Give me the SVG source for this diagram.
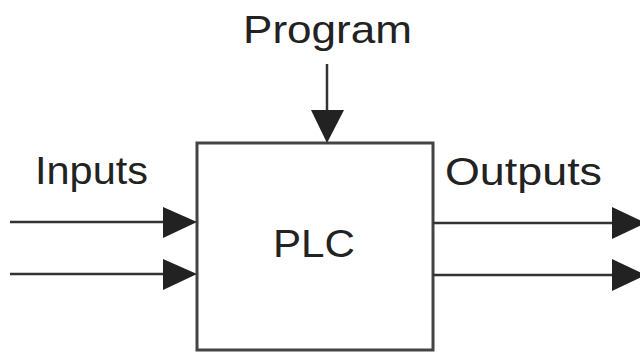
<svg xmlns="http://www.w3.org/2000/svg" width="640" height="352" viewBox="0 0 640 352">
<style>
.lbl{font-family:"Liberation Sans",Arial,sans-serif;font-size:39px;fill:#222}
.ln{stroke:#333;stroke-width:2.5;fill:none}
.box{stroke:#444;stroke-width:3;fill:#fff}
.head{fill:#222}
</style>
<rect width="640" height="352" fill="#fff"/>
<g id="plc">
<rect class="box" x="197" y="143" width="236" height="207"/>
<text class="lbl" x="273" y="257" textLength="82" lengthAdjust="spacingAndGlyphs">PLC</text>
</g>
<g id="program">
<text class="lbl" x="243" y="43" textLength="169" lengthAdjust="spacingAndGlyphs">Program</text>
</g>
<g id="inputs">
<text class="lbl" x="35" y="184" textLength="113" lengthAdjust="spacingAndGlyphs">Inputs</text>
</g>
<g id="outputs">
<text class="lbl" x="445" y="185" textLength="157" lengthAdjust="spacingAndGlyphs">Outputs</text>
</g>
<g id="connectors">
<line class="ln" x1="327" y1="64" x2="327" y2="112"/>
<polygon class="head" points="311,110 344,110 327,143"/>
<line class="ln" x1="10" y1="222" x2="166" y2="222"/>
<polygon class="head" points="163,207 163,238 197,222"/>
<line class="ln" x1="10" y1="274" x2="166" y2="274"/>
<polygon class="head" points="163,259 163,290 197,274"/>
<line class="ln" x1="433" y1="223" x2="614" y2="223"/>
<polygon class="head" points="612,207 612,239 646,223"/>
<line class="ln" x1="433" y1="275" x2="614" y2="275"/>
<polygon class="head" points="612,259 612,291 646,275"/>
</g>
</svg>
